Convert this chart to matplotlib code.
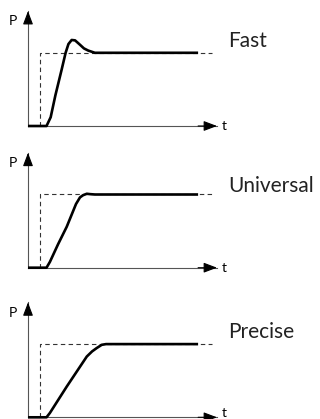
import matplotlib
matplotlib.use("Agg")
import matplotlib.pyplot as plt

# pressure response curves, t in arbitrary units, P normalised to setpoint = 1
labels = ["Fast", "Universal", "Precise"]

fast_t = [0, 0.98, 1.2, 1.45, 1.78, 1.99, 2.14, 2.31, 2.49, 2.75, 2.96, 3.19, 3.54, 9.0]
fast_p = [0, 0, 0.12, 0.42, 0.77, 1.0, 1.12, 1.175, 1.17, 1.11, 1.06, 1.03, 1.0, 1.0]

univ_t = [0, 0.98, 1.16, 1.59, 2.05, 2.54, 2.75, 2.91, 3.11, 3.28, 3.54, 9.0]
univ_p = [0, 0, 0.08, 0.32, 0.56, 0.87, 0.96, 0.99, 1.01, 1.005, 1.0, 1.0]

prec_t = [0, 0.98, 1.16, 2.05, 3.11, 3.39, 3.63, 3.9, 4.13, 9.0]
prec_p = [0, 0, 0.06, 0.42, 0.83, 0.9, 0.945, 0.99, 1.0, 1.0]

# setpoint step (dashed)
step_t = [0.61, 0.61, 9.72]
step_p = [0, 1, 1]

curves = [(fast_t, fast_p), (univ_t, univ_p), (prec_t, prec_p)]
label_y = [1.16, 1.12, 1.17]

W, H = 320, 419
fig = plt.figure(figsize=(W / 100, H / 100), dpi=100)

xmax, ymax = 10.0, 1.57
bottoms = [293, 151.3, 1.7]  # pixel position of each x axis from the bottom
ax_w = 189
ax_h = ymax * 73.2

for i, ((t, p), name, ly, b) in enumerate(zip(curves, labels, label_y, bottoms)):
    ax = fig.add_axes([28 / W, b / H, ax_w / W, ax_h / H])
    ax.set_xlim(0, xmax)
    ax.set_ylim(0, ymax)
    for s in ["top", "right"]:
        ax.spines[s].set_visible(False)
    for s in ["left", "bottom"]:
        ax.spines[s].set_color("#555555")
        ax.spines[s].set_linewidth(0.8)
    ax.set_xticks([])
    ax.set_yticks([])
    ax.patch.set_alpha(0)

    # arrow heads
    arr = dict(arrowstyle="-|>,head_length=0.45,head_width=0.17", color="black",
               lw=0.8, shrinkA=0, shrinkB=0, mutation_scale=18)
    ax.annotate("", xy=(0, 1), xytext=(0, 0.9), xycoords="axes fraction",
                arrowprops=arr, annotation_clip=False)
    ax.annotate("", xy=(1, 0), xytext=(0.9, 0), xycoords="axes fraction",
                arrowprops=arr, annotation_clip=False)

    ax.plot(step_t, step_p, color="#333333", lw=0.8, linestyle=(0, (4, 3)), clip_on=False)
    ax.plot(t, p, color="black", lw=1.9, solid_joinstyle="round",
            solid_capstyle="butt", clip_on=False, zorder=3)

    ax.text(-0.82, ymax - 0.14, "P", fontsize=10, family="Lato",
            ha="center", va="center")
    # last panel sits on the bottom edge, keep its "t" inside the picture
    ax.text(10.37, 0 if i < 2 else -0.02, "t", fontsize=10, family="Lato",
            ha="center", va="center" if i < 2 else "bottom")
    ax.text(10.58, ly, name, fontsize=15, family="Lato", ha="left", va="center",
            color="#222222")

plt.savefig("out.png", dpi=100)
